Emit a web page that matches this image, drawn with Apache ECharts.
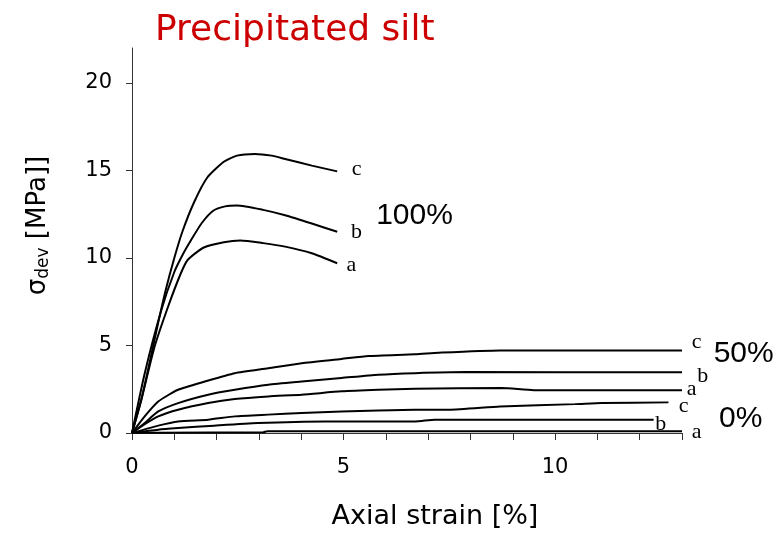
<!DOCTYPE html>
<html>
<head>
<meta charset="utf-8">
<script src="https://cdn.jsdelivr.net/npm/echarts@6/dist/echarts.min.js"></script>
<style>
html,body{margin:0;padding:0;background:#fff;}
#chart{width:777px;height:537px;}
</style>
</head>
<body>
<div id="chart"></div>
<script>
// ---- data: [axial strain %, deviatoric stress MPa] ----
const curve100a = [[0,0],[0.22,1.9],[0.53,4.9],[0.85,7.2],[1.15,9.1],[1.32,9.9],[1.7,10.6],[2.17,10.9],[2.56,11.0],[3.1,10.85],[3.62,10.65],[4.25,10.27],[4.85,9.7]];
const curve100b = [[0,0],[0.3,3.4],[0.69,7.0],[1.0,9.2],[1.2,10.2],[1.39,11.0],[1.65,12.0],[1.92,12.7],[2.2,12.95],[2.48,13.0],[3.1,12.75],[3.62,12.44],[4.25,11.97],[4.85,11.5]];
const curve100c = [[0,0],[0.22,1.9],[0.45,4.4],[0.61,6.2],[0.8,8.2],[1.0,10.0],[1.19,11.5],[1.47,13.2],[1.78,14.6],[2.17,15.5],[2.48,15.85],[2.9,15.95],[3.3,15.85],[3.62,15.66],[4.25,15.28],[4.85,14.95]];
const curve50a = [[0,0],[0.3,0.5],[0.62,0.95],[1.09,1.33],[1.8,1.71],[2.43,1.94],[3.22,2.09],[4.01,2.19],[4.95,2.38],[5.82,2.47],[6.69,2.53],[8.74,2.57],[9.5,2.45],[13,2.45]];
const curve50b = [[0,0],[0.3,0.57],[0.62,1.23],[1.09,1.71],[1.8,2.19],[2.43,2.47],[3.22,2.76],[4.01,2.94],[4.95,3.14],[5.82,3.33],[6.69,3.42],[7.87,3.48],[13,3.47]];
const curve50c = [[0,0],[0.3,0.95],[0.62,1.8],[1.09,2.47],[1.72,2.94],[2.43,3.42],[3.22,3.7],[4.01,3.99],[4.95,4.23],[5.59,4.4],[6.69,4.5],[7.25,4.59],[8.7,4.72],[13,4.72]];
const curve0a = [[0,0],[0.6,0.02],[3.1,0.04],[3.2,0.1],[8.3,0.1],[13,0.1]];
const curve0b = [[0,0],[0.62,0.19],[1.09,0.28],[1.94,0.42],[2.97,0.57],[4.56,0.66],[6.69,0.66],[7.16,0.76],[12.33,0.76]];
const curve0c = [[0,0],[0.62,0.42],[1.09,0.66],[1.8,0.76],[2.43,0.95],[3.22,1.05],[4.01,1.14],[4.95,1.23],[5.82,1.29],[6.69,1.33],[7.48,1.33],[8.7,1.52],[10.47,1.65],[11.1,1.71],[12.68,1.75]];

// curve labels in data coordinates: [strain, stress, text]
const letterLabels = [[5.32,15.05,'c'],[5.32,11.45,'b'],[5.2,9.56,'a'],[13.36,5.16,'c'],[13.5,3.22,'b'],[13.24,2.47,'a'],[13.05,1.5,'c'],[12.51,0.48,'b'],[13.36,0.0,'a']];
const groupLabels = [[6.69,12.4,'100%'],[14.47,4.49,'50%'],[14.4,0.76,'0%']];

const xTicks = [0,5,10];
const yTicks = [0,5,10,15,20];
const xMinorTicks = [0,1,2,3,4,5,6,7,8,9,10,11,12,13];

const curves = [curve100a,curve100b,curve100c,curve50a,curve50b,curve50c,curve0a,curve0b,curve0c];

const chart = echarts.init(document.getElementById('chart'), null, {renderer:'canvas'});
const SANS = 'DejaVu Sans, sans-serif';
const ARIAL = 'Liberation Sans, Arial, sans-serif';
const SERIF = 'Liberation Serif, Times New Roman, serif';

const series = curves.map((c, i) => ({
  type:'line', data:c, symbol:'none', smooth: 0.2, clip:false,
  lineStyle:{color:'#000', width:2}, silent:true, z:3
}));
series.push({
  type:'scatter', clip:false, symbolSize:1, itemStyle:{opacity:0}, silent:true,
  data: letterLabels.map(d => [d[0], d[1], d[2]]),
  label:{show:true, position:[0,0], align:'center', verticalAlign:'middle', formatter:p => p.data[2], color:'#000', opacity:1, fontFamily:SERIF, fontSize:22}
});
series.push({
  type:'scatter', clip:false, symbolSize:1, itemStyle:{opacity:0}, silent:true,
  data: groupLabels.map(d => [d[0], d[1], d[2]]),
  label:{show:true, position:[0,0], align:'center', verticalAlign:'middle', formatter:p => p.data[2], color:'#000', opacity:1, fontFamily:ARIAL, fontSize:30}
});

chart.setOption({
  backgroundColor:'#fff',
  animation:false,
  title:{text:'Precipitated silt', left:150, top:8, textStyle:{color:'#cc0000', fontFamily:SANS, fontSize:36, fontWeight:'normal'}},
  grid:{left:132, right:95, top:48, bottom:104, containLabel:false},
  xAxis:{
    type:'value', min:0, max:13, interval:1,
    name:'Axial strain [%]', nameLocation:'middle', nameGap:70,
    nameTextStyle:{fontFamily:SANS, fontSize:27, color:'#000', padding:[0,0,0,56]},
    axisLine:{show:true, onZero:false, lineStyle:{color:'#333', width:1}},
    axisTick:{show:true, inside:false, length:7, customValues:xMinorTicks, lineStyle:{color:'#333'}},
    axisLabel:{customValues:xTicks, fontFamily:SANS, fontSize:21, color:'#000', margin:24},
    splitLine:{show:false}
  },
  yAxis:{
    type:'value', min:0, max:22, interval:5,
    name:'{s|σ}{sub|dev}{s| [MPa]]}', nameLocation:'middle', nameGap:80, nameRotate:90,
    nameTextStyle:{fontFamily:SANS, color:'#000', padding:[0,0,0,30],
      rich:{s:{fontFamily:SANS, fontSize:26, color:'#000'}, sub:{fontFamily:SANS, fontSize:17, color:'#000', verticalAlign:'bottom', padding:[10,0,0,0]}}},
    axisLine:{show:true, lineStyle:{color:'#333', width:1}},
    axisTick:{show:true, inside:false, length:6, customValues:yTicks, lineStyle:{color:'#333'}},
    axisLabel:{customValues:yTicks, fontFamily:SANS, fontSize:21, color:'#000', margin:20},
    splitLine:{show:false}
  },
  series: series
});
</script>
</body>
</html>
